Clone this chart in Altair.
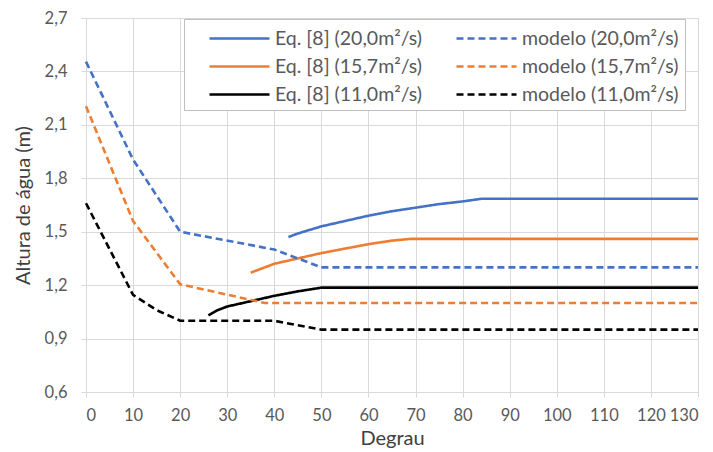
import altair as alt
import pandas as pd

series_names = [
    "Eq. [8] (20,0m²/s)", "Eq. [8] (15,7m²/s)", "Eq. [8] (11,0m²/s)",
    "modelo (20,0m²/s)", "modelo (15,7m²/s)", "modelo (11,0m²/s)",
]
colors = ["#4472C4", "#ED7D31", "#000000", "#4472C4", "#ED7D31", "#000000"]
dashes = [[1, 0], [1, 0], [1, 0], [7, 4], [7, 4], [7, 4]]

eq20_x = [43, 45, 50, 55, 60, 65, 70, 75, 80, 84, 130]
eq20_y = [1.47, 1.49, 1.53, 1.56, 1.59, 1.615, 1.635, 1.655, 1.67, 1.685, 1.685]
eq157_x = [35, 40, 45, 50, 55, 60, 65, 69, 130]
eq157_y = [1.27, 1.32, 1.35, 1.38, 1.405, 1.43, 1.45, 1.46, 1.46]
eq11_x = [26, 28, 30, 35, 40, 45, 50, 130]
eq11_y = [1.03, 1.06, 1.08, 1.11, 1.14, 1.165, 1.186, 1.186]

mod20_x = [0, 10, 20, 40, 50, 130]
mod20_y = [2.455, 1.905, 1.50, 1.40, 1.30, 1.30]
mod157_x = [0, 10, 20, 38, 130]
mod157_y = [2.205, 1.56, 1.205, 1.10, 1.10]
mod11_x = [0, 10, 15, 20, 40, 50, 130]
mod11_y = [1.66, 1.145, 1.06, 1.0, 1.0, 0.95, 0.95]

all_x = [eq20_x, eq157_x, eq11_x, mod20_x, mod157_x, mod11_x]
all_y = [eq20_y, eq157_y, eq11_y, mod20_y, mod157_y, mod11_y]

rows = []
for name, xs, ys in zip(series_names, all_x, all_y):
    for i, (x, y) in enumerate(zip(xs, ys)):
        rows.append({"serie": name, "degrau": x, "altura": y, "i": i})
df = pd.DataFrame(rows)

x_ticks = list(range(0, 131, 10))
y_ticks = [0.6, 0.9, 1.2, 1.5, 1.8, 2.1, 2.4, 2.7]

FONT = "Lato"
GRAY = "#595959"

chart = alt.Chart(df).mark_line(strokeWidth=2.6).encode(
    x=alt.X("degrau:Q", title="Degrau",
            scale=alt.Scale(domain=[0, 130], nice=False, zero=False),
            axis=alt.Axis(values=x_ticks, grid=True)),
    y=alt.Y("altura:Q", title="Altura de água (m)",
            scale=alt.Scale(domain=[0.6, 2.7], nice=False, zero=False),
            axis=alt.Axis(values=y_ticks, grid=True,
                          labelExpr="replace(format(datum.value, '.1f'), '.', ',')")),
    color=alt.Color("serie:N", title=None,
                    scale=alt.Scale(domain=series_names, range=colors),
                    legend=alt.Legend(orient="none", legendX=98, legendY=1, columns=2,
                                      symbolType="M-2.5,0H2.5", symbolSize=576,
                                      symbolStrokeWidth=2.6, symbolOffset=36,
                                      columnPadding=14, rowPadding=5,
                                      labelFontSize=19.5, labelFont=FONT,
                                      labelColor=GRAY, labelLimit=300,
                                      fillColor="white", strokeColor="#bfbfbf",
                                      padding=6, labelOffset=22)),
    strokeDash=alt.StrokeDash("serie:N", title=None,
                              scale=alt.Scale(domain=series_names, range=dashes)),
    order="i:Q",
).properties(
    width=612, height=374,
    padding={"left": 5, "top": 2, "right": 0, "bottom": 5},
).configure_axis(
    gridColor="#d9d9d9", domainColor="#d9d9d9", tickColor="#d9d9d9",
    labelFont=FONT, titleFont=FONT, labelFontSize=16.5, titleFontSize=20,
    labelColor=GRAY, titleColor="#404040", titleFontWeight="normal",
    tickSize=5,
).configure_axisY(titlePadding=11, labelPadding=14).configure_axisX(
    titlePadding=5, labelPadding=10
).configure_view(stroke=None)

chart.save("out.html", embed_options={"renderer": "svg", "actions": False})
